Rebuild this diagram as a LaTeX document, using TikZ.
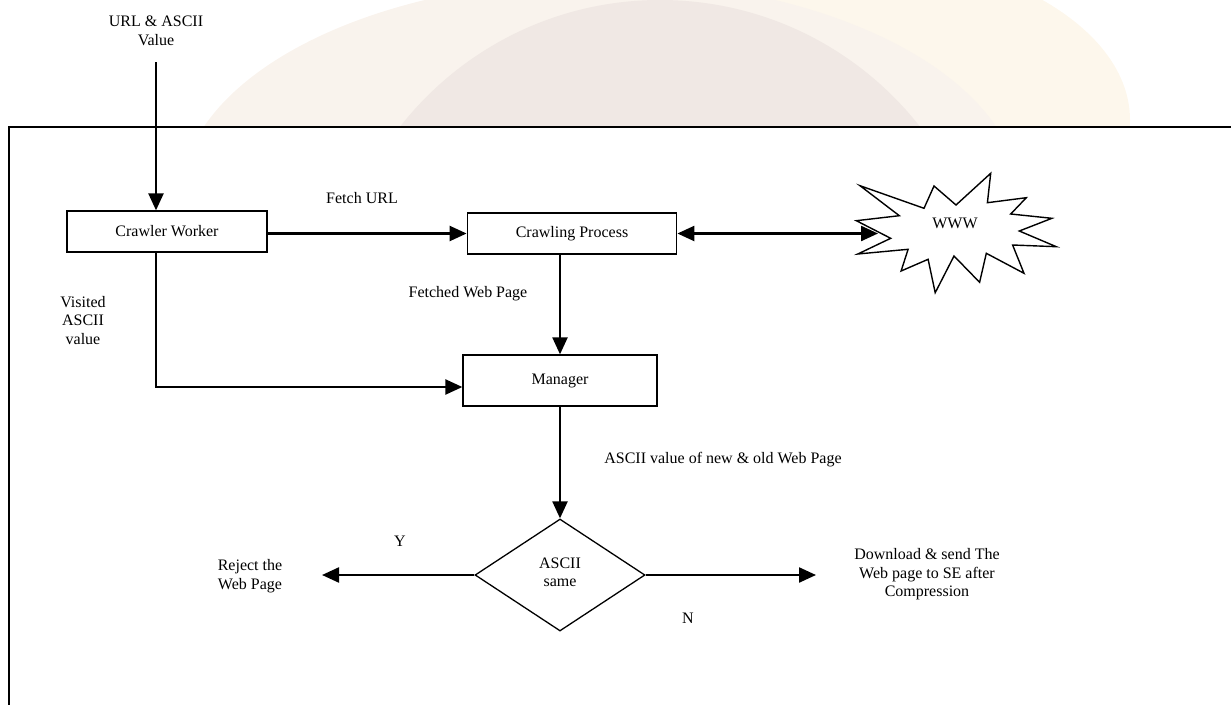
\documentclass[tikz,border=0pt]{standalone}
\usepackage{fontspec}
\setmainfont{Liberation Serif}
\usetikzlibrary{arrows.meta,shapes.geometric}
\definecolor{wmlight}{RGB}{249,243,237}
\definecolor{wmmid}{RGB}{240,232,228}
\definecolor{wmwarm}{RGB}{253,247,236}
\tikzset{
  box/.style={draw, line width=1.3pt, rectangle, inner sep=0pt},
  lbl/.style={inner sep=0pt, align=center, font=\fontsize{16}{18.5}\selectfont},
  arr/.style={line width=2.3pt, -{Triangle[length=17pt,width=15pt]}},
  arrtwo/.style={line width=2.3pt, {Triangle[length=17pt,width=15pt]}-{Triangle[length=17pt,width=15pt]}},
  frame/.style={line width=1.3pt},
}
\begin{document}
\begin{tikzpicture}[x=1pt,y=-1pt]
\useasboundingbox (0,0) rectangle (1231,704);
% faint watermark above the frame
\begin{scope}
  \clip (0,0) rectangle (1231,126);
  \fill[wmwarm] (830,120) ellipse (300 and 170);
  \fill[wmlight] (600,200) ellipse (420 and 220);
  \fill[wmmid] (660,330) circle (330);
\end{scope}
% outer frame
\draw[frame] (1240,127) -- (9,127) -- (9,715);

% nodes
\node[lbl, fill=white, minimum width=170pt, minimum height=62pt] (url) at (156,31) {URL \& ASCII\\Value};
\node[box, lbl, minimum width=200pt, minimum height=41pt] (cw) at (167,231.5) {Crawler Worker};
\node[box, lbl, minimum width=209.5pt, minimum height=41pt] (cp) at (572,233.5) {Crawling Process};
\node[box, lbl, minimum width=194pt, minimum height=51pt] (mg) at (560,380.5) {Manager};
\node[draw, line width=1.3pt, diamond, inner sep=0pt, minimum width=170pt, minimum height=112pt] (dec) at (560,575) {};
\node[lbl] (dectext) at (560,572.5) {ASCII\\same};

% WWW star
\draw[line width=1.4pt, line join=miter] (860,185.7) -- (924,208.3) -- (934,186) -- (956,205) -- (990.7,173.3) -- (987.4,202.7) -- (1026.3,197.7) -- (1010.7,214) -- (1051.9,218.3) -- (1019.3,231) -- (1056.3,246.7) -- (1012.6,245) -- (1024,273.3) -- (986.3,253.3) -- (979.6,282.3) -- (954,256) -- (935.2,292.7) -- (928.1,259.3) -- (901.1,271) -- (908.1,249.3) -- (857.8,254) -- (890.7,238.3) -- (856.3,220.7) -- (899.3,215.7) -- cycle;
\node[lbl] (www) at (955,223) {WWW};
\coordinate (wwwin) at (878,235);

% labels
\node[lbl] (fetchurl) at (362,198) {Fetch URL};
\node[lbl] (fetched) at (468,294) {Fetched Web Page};
\node[lbl] (visited) at (83,320.5) {Visited\\ASCII\\value};
\node[lbl] (asciival) at (723,460) {ASCII value of new \& old Web Page};
\node[lbl] (ylbl) at (400,541) {Y};
\node[lbl] (nlbl) at (688,618) {N};
\node[lbl] (reject) at (250,576) {Reject the\\Web Page};
\node[lbl] (download) at (927,574.5) {Download \& send The\\Web page to SE after\\Compression};
\coordinate (rejin) at (322,576);
\coordinate (dlin) at (816,574);

% connectors
\draw[arr] (url.south) -- (url.south |- cw.north);
\draw[arr] (cw.east |- cp.west) -- (cp.west);
\draw[arrtwo] (cp.east) -- (wwwin |- cp.east);
\draw[arr] (mg.north |- cp.south) -- (mg.north);
\draw[arr] (url.south |- cw.south) |- ([yshift=-6.5pt]mg.west);
\draw[arr] (mg.south) -- (dec.north);
\draw[arr] (dec.west) -- (rejin |- dec.west);
\draw[arr] (dec.east) -- (dlin |- dec.east);
\end{tikzpicture}
\end{document}
